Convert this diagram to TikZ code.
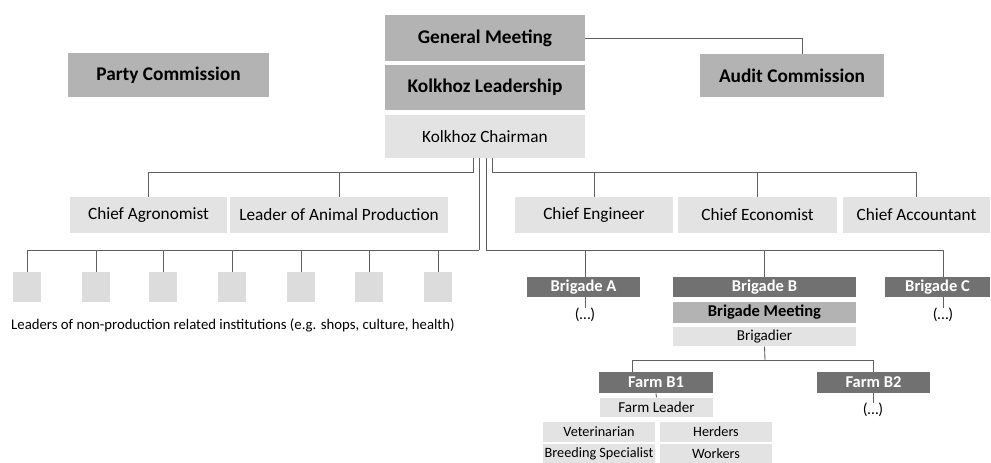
\documentclass[tikz,border=0pt]{standalone}
\usepackage{fontspec}
\setmainfont{Carlito}
\usepackage{tikz}
\usetikzlibrary{calc,positioning}

\definecolor{kdark}{HTML}{717171}
\definecolor{kmid}{HTML}{B3B3B3}
\definecolor{klight}{HTML}{E3E3E3}
\definecolor{kstub}{HTML}{DCDCDC}
\definecolor{kline}{HTML}{606060}

\tikzset{
	link/.style={draw=kline, line width=0.5pt},
	midbox/.style = {
			rectangle, fill=kmid, inner sep=0pt,
			font=\fontsize{11}{13}\selectfont\bfseries,
		},
	litbox/.style = {
			rectangle, fill=klight, inner sep=0pt,
			font=\fontsize{9.8}{12}\selectfont,
		},
	darkbox/.style = {
			rectangle, fill=kdark, inner sep=0pt, text=white,
			minimum height=0.4cm,
			font=\fontsize{9.4}{11}\selectfont\bfseries,
		},
	smallbox/.style = {
			rectangle, fill=klight, inner sep=0pt,
			minimum height=0.39cm,
			font=\fontsize{8.1}{10}\selectfont,
		},
	stubbox/.style = {
			rectangle, fill=kstub, inner sep=0pt,
			minimum width=0.56cm, minimum height=0.6cm,
		},
	more/.style = {inner sep=0pt, font=\fontsize{9}{11}\selectfont},
}

\begin{document}
\begin{tikzpicture}[x=0.02cm, y=-0.02cm]
	\useasboundingbox (0,0) rectangle (991,463);

	% Top of the kolkhoz
	\node[midbox, minimum width=4cm, minimum height=0.92cm] (gm) at (485,38) {General Meeting};
	\node[midbox, minimum width=4cm, minimum height=0.9cm] (kl) at (485,87.5) {Kolkhoz Leadership};
	\node[litbox, minimum width=4cm, minimum height=0.86cm] (kc) at (485,136.5) {Kolkhoz Chairman};

	% Commissions
	\node[midbox, minimum width=4.02cm, minimum height=0.88cm] (party) at (168.5,75) {Party Commission};
	\node[midbox, minimum width=3.68cm, minimum height=0.86cm] (audit) at (792,75.5) {Audit Commission};
	\draw[link] (gm.east) -| ($(audit.north)+(10,0)$);

	% Chief specialists
	\node[litbox, minimum width=3.14cm, minimum height=0.72cm] (agr) at (148.5,215) {Chief Agronomist};
	\node[litbox, minimum width=4.36cm, minimum height=0.72cm] (lap) at (339,215) {Leader of Animal Production};
	\node[litbox, minimum width=3.16cm, minimum height=0.72cm] (eng) at (594,215) {Chief Engineer};
	\node[litbox, minimum width=3.18cm, minimum height=0.72cm] (eco) at (757.5,215) {Chief Economist};
	\node[litbox, minimum width=2.94cm, minimum height=0.72cm] (acc) at (916.5,215) {Chief Accountant};

	\coordinate (kcL) at (473,172);
	\coordinate (kcR) at (492,172);
	\draw[link] (kc.south -| kcL) -- (kcL) -| (agr.north);
	\draw[link] (kcL) -| (lap.north);
	\draw[link] (kc.south -| kcR) -- (kcR) -| (acc.north);
	\draw[link] (kcR) -| (eng.north);
	\draw[link] (kcR) -| (eco.north);

	% Non-production institutions
	\coordinate (kcS) at (479,250);
	\draw[link] (kc.south -| kcS) -- (kcS);
	\foreach \x [count=\i] in {27,96,163,232,301,369,438}
		{   \node[stubbox] (s\i) at (\x,287) {};
			\draw[link] (kcS) -| (s\i.north);
		}
	\node[inner sep=0pt, font=\fontsize{8.4}{10}\selectfont] (npi) at (233,325)
		{Leaders of non-production related institutions (e.g. shops, culture, health)};

	% Brigades
	\coordinate (kcB) at (486,250);
	\draw[link] (kc.south -| kcB) -- (kcB);
	\node[darkbox, minimum width=2.26cm] (brA) at (583.5,287) {Brigade A};
	\node[darkbox, minimum width=3.66cm] (brB) at (764.5,287) {Brigade B};
	\node[darkbox, minimum width=2.1cm] (brC) at (937.5,287) {Brigade C};
	\node[more] (dA) at (585,315) {(\dots)};
	\node[more] (dC) at (943,315) {(\dots)};
	\draw[link] (kcB) -| (dA.north |- brA.north);
	\draw[link] (kcB) -| (brB.north);
	\draw[link] (kcB) -| (dC.north |- brC.north);
	\draw[link] (dA.north |- brA.south) -- (dA.north);
	\draw[link] (dC.north |- brC.south) -- (dC.north);

	% Brigade B in detail
	\node[midbox, minimum width=3.66cm, minimum height=0.42cm,
		font=\fontsize{9.4}{11}\selectfont\bfseries] (bmeet) at (764.5,312.5) {Brigade Meeting};
	\node[smallbox, minimum width=3.66cm, font=\fontsize{8.6}{10}\selectfont] (brig) at (764.5,336.5) {Brigadier};

	\coordinate (bg) at (765,360);
	\draw[link] (brig.south) -- (bg);
	\node[darkbox, minimum width=2.28cm, minimum height=0.42cm] (fb1) at (656,382.5) {Farm B1};
	\node[darkbox, minimum width=2.26cm, minimum height=0.42cm] (fb2) at (873.5,382.5) {Farm B2};
	\draw[link] (bg) -| ($(fb1.north)+(-24,0)$);
	\draw[link] (bg) -| (fb2.north);

	\node[more] (dB2) at (873,410) {(\dots)};
	\draw[link] (dB2.north |- fb2.south) -- (dB2.north);

	% Farm B1 staff
	\node[smallbox, minimum width=2.26cm, font=\fontsize{8.6}{10}\selectfont] (fl) at (656.5,407.5) {Farm Leader};
	\draw[link] (fb1.south) -- (fl.north);
	\node[smallbox, minimum width=2.24cm, minimum height=0.4cm] (vet) at (599,432) {Veterinarian};
	\node[smallbox, minimum width=2.24cm, minimum height=0.4cm] (herd) at (716,432) {Herders};
	\node[smallbox, minimum width=2.24cm, minimum height=0.4cm] (breed) at (599,454) {Breeding Specialist};
	\node[smallbox, minimum width=2.24cm, minimum height=0.4cm] (work) at (716,454) {Workers};
\end{tikzpicture}
\end{document}
